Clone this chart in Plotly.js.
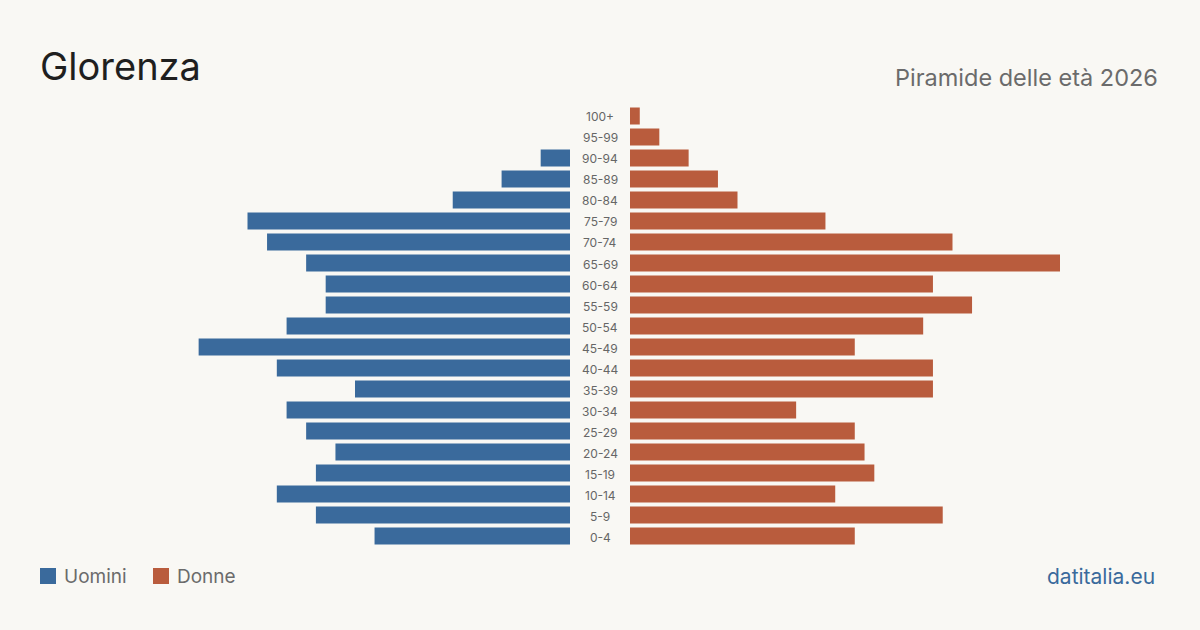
<!DOCTYPE html>
<html>
<head>
<meta charset="utf-8">
<script src="https://cdn.plot.ly/plotly-3.0.1.min.js"></script>
<style>
  html, body { margin: 0; padding: 0; background: #f9f8f4; }
  #chart { width: 1200px; height: 630px; }
</style>
</head>
<body>
<div id="chart"></div>
<script>
// Age classes, youngest first
const ageGroups = ['0-4', '5-9', '10-14', '15-19', '20-24', '25-29', '30-34', '35-39',
  '40-44', '45-49', '50-54', '55-59', '60-64', '65-69', '70-74', '75-79',
  '80-84', '85-89', '90-94', '95-99', '100+'];

// Residents per age class
const men = [20, 26, 30, 26, 24, 27, 29, 22, 30, 38, 29, 25, 25, 27, 31, 33, 12, 7, 3, 0, 0];
const women = [23, 32, 21, 25, 24, 23, 17, 31, 31, 23, 30, 35, 31, 44, 33, 20, 11, 9, 6, 3, 1];

const BLUE = '#3a6a9c';
const RED = '#b95c3d';
const BG = '#f9f8f4';
const FONT = 'Inter, "Noto Sans", sans-serif';

const maxVal = 44;

const traces = [
  {
    type: 'bar', orientation: 'h', name: 'Uomini',
    x: men, y: ageGroups, xaxis: 'x', yaxis: 'y',
    marker: { color: BLUE }, hoverinfo: 'x+y'
  },
  {
    type: 'bar', orientation: 'h', name: 'Donne',
    x: women, y: ageGroups, xaxis: 'x2', yaxis: 'y2',
    marker: { color: RED }, hoverinfo: 'x+y'
  }
];

const yDomain = [83.5 / 630, 524.5 / 630];

// Age labels in the gap between the two halves
const labelAnnotations = ageGroups.map(g => ({
  xref: 'paper', yref: 'y', x: 0.5, y: g, yshift: -1,
  text: g, showarrow: false, xanchor: 'center', yanchor: 'middle',
  font: { family: FONT, size: 12, color: '#666' }
}));

const layout = {
  width: 1200, height: 630,
  paper_bgcolor: BG, plot_bgcolor: BG,
  margin: { l: 0, r: 0, t: 0, b: 0 },
  showlegend: false,
  bargap: 0.19,
  xaxis: {
    domain: [140 / 1200, 570 / 1200], range: [maxVal, 0],
    visible: false, fixedrange: true
  },
  xaxis2: {
    domain: [630 / 1200, 1060 / 1200], range: [0, maxVal],
    visible: false, fixedrange: true
  },
  yaxis: {
    domain: yDomain, type: 'category', categoryarray: ageGroups,
    range: [-0.5, ageGroups.length - 0.5], visible: false, fixedrange: true
  },
  yaxis2: {
    domain: yDomain, type: 'category', categoryarray: ageGroups, anchor: 'x2',
    range: [-0.5, ageGroups.length - 0.5], visible: false, fixedrange: true
  },
  annotations: labelAnnotations.concat([
    {
      xref: 'paper', yref: 'paper', x: 38 / 1200, y: 1 - 66 / 630,
      xanchor: 'left', yanchor: 'middle', showarrow: false,
      text: 'Glorenza', font: { family: FONT, size: 38, color: '#1f1f1f' }
    },
    {
      xref: 'paper', yref: 'paper', x: 1160 / 1200, y: 1 - 77 / 630,
      xanchor: 'right', yanchor: 'middle', showarrow: false,
      text: 'Piramide delle età 2026', font: { family: FONT, size: 23.5, color: '#6b6b6b' }
    },
    {
      xref: 'paper', yref: 'paper', x: 62 / 1200, y: 1 - 576 / 630,
      xanchor: 'left', yanchor: 'middle', showarrow: false,
      text: 'Uomini', font: { family: FONT, size: 19, color: '#6b6b6b' }
    },
    {
      xref: 'paper', yref: 'paper', x: 175 / 1200, y: 1 - 576 / 630,
      xanchor: 'left', yanchor: 'middle', showarrow: false,
      text: 'Donne', font: { family: FONT, size: 19, color: '#6b6b6b' }
    },
    {
      xref: 'paper', yref: 'paper', x: 1157 / 1200, y: 1 - 576 / 630,
      xanchor: 'right', yanchor: 'middle', showarrow: false,
      text: 'datitalia.eu', font: { family: FONT, size: 21, color: BLUE }
    }
  ]),
  shapes: [
    {
      type: 'rect', xref: 'paper', yref: 'paper', line: { width: 0 },
      x0: 40 / 1200, x1: 56 / 1200, y0: 1 - 584 / 630, y1: 1 - 568 / 630,
      fillcolor: BLUE
    },
    {
      type: 'rect', xref: 'paper', yref: 'paper', line: { width: 0 },
      x0: 153 / 1200, x1: 169 / 1200, y0: 1 - 584 / 630, y1: 1 - 568 / 630,
      fillcolor: RED
    }
  ]
};

Plotly.newPlot('chart', traces, layout, { displayModeBar: false, staticPlot: true });
</script>
</body>
</html>
